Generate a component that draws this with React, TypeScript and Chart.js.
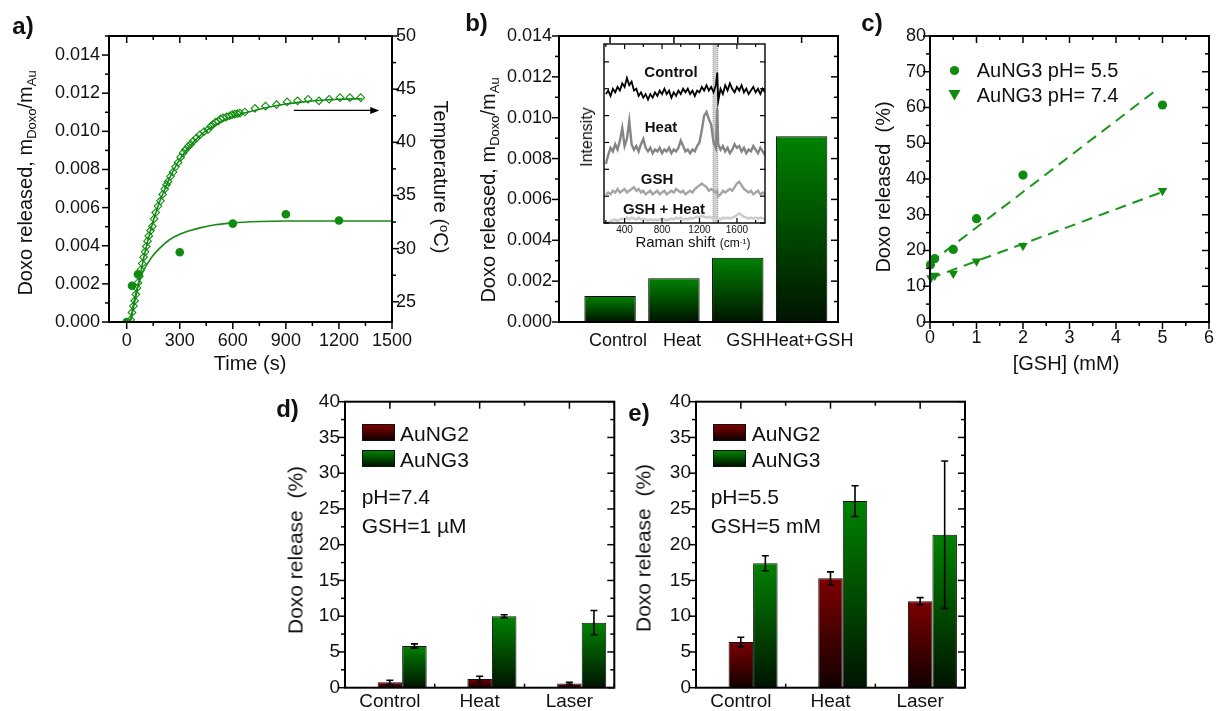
import React, { useEffect, useRef } from 'react';
import { Chart, registerables } from 'chart.js';

Chart.register(...registerables);

const FONT = "'Liberation Sans', Arial, Helvetica, sans-serif";
Chart.defaults.font.family = FONT;
Chart.defaults.color = '#111';

// ---------------- Panel a ----------------
const aTempTime = [22, 30, 38, 45, 52, 58, 64, 72, 80, 88, 96, 104, 111, 118, 125, 135, 145, 155, 164, 177, 191, 203, 215, 225, 234, 248, 262, 276, 290, 305, 319, 333, 347, 361, 375, 394, 413, 437, 460, 475, 489, 503, 517, 531, 545, 564, 583, 597, 611, 626, 640, 668, 725, 785, 847, 907, 966, 1026, 1087, 1145, 1206, 1262, 1323];
const aTemp = [23.3, 24.0, 24.6, 25.1, 25.7, 26.3, 26.8, 27.4, 28.0, 28.6, 29.2, 29.7, 30.2, 30.7, 31.2, 31.7, 32.1, 32.8, 33.4, 34.0, 34.5, 35.1, 35.6, 36.0, 36.3, 36.8, 37.2, 37.7, 38.1, 38.6, 39.0, 39.3, 39.6, 39.8, 40.1, 40.4, 40.7, 41.0, 41.2, 41.5, 41.7, 41.9, 42.0, 42.2, 42.3, 42.4, 42.5, 42.6, 42.65, 42.7, 42.75, 42.85, 43.2, 43.4, 43.55, 43.8, 43.9, 44.05, 43.9, 44.05, 44.2, 44.2, 44.2];
const aTempFitTime = [20, 40, 60, 80, 100, 125, 150, 175, 200, 250, 300, 350, 400, 450, 500, 600, 700, 800, 900, 1000, 1100, 1200, 1330];
const aTempFit = [23.1, 24.6, 26.2, 27.8, 29.4, 31.1, 32.6, 33.9, 35.0, 36.9, 38.4, 39.5, 40.4, 41.1, 41.6, 42.4, 42.9, 43.3, 43.6, 43.8, 43.95, 44.05, 44.1];
const aDoxoTime = [0, 30, 64, 300, 600, 900, 1200];
const aDoxo = [0, 0.0019, 0.0025, 0.00366, 0.00516, 0.00565, 0.00532];
const aDoxoFitTime = [20, 40, 60, 90, 120, 150, 190, 240, 300, 360, 420, 500, 600, 750, 900, 1100, 1300, 1500];
const aDoxoFit = [0, 0.001, 0.0018, 0.0026, 0.0031, 0.0035, 0.0039, 0.0043, 0.0046, 0.0048, 0.00495, 0.0051, 0.0052, 0.00527, 0.0053, 0.0053, 0.0053, 0.0053];
const aXTicks = [0, 300, 600, 900, 1200, 1500];
const aYTicks = [0, 0.002, 0.004, 0.006, 0.008, 0.01, 0.012, 0.014];
const aY2Ticks = [25, 30, 35, 40, 45, 50];
const aArrowTime = [945, 1428];
const aArrowTemp = 43;

// ---------------- Panel b ----------------
const bCategories = ['Control', 'Heat', 'GSH', 'Heat+GSH'];
const bValues = [0.00127, 0.00214, 0.00315, 0.00909];
const bYTicks = [0, 0.002, 0.004, 0.006, 0.008, 0.01, 0.012, 0.014];

// inset (Raman)
const ramanShift = [200, 225, 250, 275, 300, 325, 350, 375, 400, 425, 450, 475, 500, 525, 550, 575, 600, 625, 650, 675, 700, 725, 750, 775, 800, 825, 850, 875, 900, 925, 950, 975, 1000, 1025, 1050, 1075, 1100, 1125, 1150, 1175, 1200, 1225, 1250, 1275, 1300, 1325, 1350, 1375, 1390, 1400, 1425, 1450, 1475, 1500, 1525, 1550, 1575, 1600, 1625, 1650, 1675, 1700, 1725, 1750, 1775, 1800, 1825, 1850, 1875, 1900];
const ramanControl = [72, 74, 71, 75, 73, 76, 74, 78, 76, 81, 77, 79, 74, 75, 71, 73, 70, 72, 69, 72, 70, 73, 71, 74, 72, 75, 72, 74, 70, 73, 71, 74, 72, 75, 73, 75, 72, 74, 71, 74, 73, 76, 74, 77, 74, 76, 73, 77, 84, 68, 75, 72, 77, 74, 78, 75, 73, 76, 74, 77, 73, 75, 72, 74, 76, 73, 75, 72, 75, 73];
const ramanHeat = [33, 38, 42, 40, 44, 41, 46, 53, 43, 47, 57, 44, 41, 43, 40, 44, 47, 42, 40, 42, 39, 41, 40, 42, 39, 41, 40, 42, 39, 41, 40, 42, 46, 43, 40, 41, 39, 41, 40, 43, 45, 52, 60, 62, 58, 55, 45, 42, 64, 44, 41, 43, 40, 42, 39, 41, 44, 42, 43, 40, 42, 39, 41, 40, 43, 41, 39, 42, 40, 38];
const ramanGSH = [16, 17, 16, 18, 17, 19, 17, 18, 19, 17, 18, 19, 20, 18, 19, 17, 18, 16, 17, 18, 16, 17, 18, 16, 17, 18, 16, 17, 18, 17, 19, 18, 17, 18, 16, 17, 18, 17, 19, 20, 21, 22, 21, 20, 18, 19, 18, 17, 18, 15, 16, 18, 17, 18, 19, 18, 20, 22, 23, 21, 19, 18, 17, 18, 16, 17, 18, 16, 17, 16];
const ramanGSHHeat = [0, 0, 1, 1.5, 2, 1, 2, 2.5, 2, 3, 2, 3, 2.5, 2, 3, 2, 2.5, 2, 1.5, 2, 1.5, 2, 1.5, 2, 2.5, 2, 1.5, 2, 2.5, 2, 3, 2.5, 3, 2, 2.5, 2, 3, 2.5, 3, 3.5, 3, 4, 3.5, 3, 3.5, 3, 2.5, 3, 2, 2.5, 2, 3, 2.5, 3, 2.5, 3, 3.5, 4.5, 5.5, 4.5, 3.5, 3, 2.5, 3, 2.5, 3, 2.5, 3, 2.5, 2];
const ramanXTicks = [400, 800, 1200, 1600];
const ramanBand = [1345, 1395];

// ---------------- Panel c ----------------
const cGSH55 = [0.01, 0.1, 0.5, 1, 2, 5];
const cRel55 = [16.0, 17.7, 20.3, 28.9, 41.1, 60.7];
const cGSH74 = [0.02, 0.1, 0.5, 1, 2, 5];
const cRel74 = [12.3, 13.0, 13.6, 17.0, 21.3, 36.7];
const cFitX55 = [0, 4.92];
const cFit55 = [16.5, 65.4];
const cFitX74 = [0, 5.0];
const cFit74 = [12.2, 36.4];
const cXTicks = [0, 1, 2, 3, 4, 5, 6];
const cYTicks = [0, 10, 20, 30, 40, 50, 60, 70, 80];

// ---------------- Panels d, e ----------------
const deCategories = ['Control', 'Heat', 'Laser'];
const dAuNG2 = [0.75, 1.2, 0.6];
const dAuNG2Err = [0.3, 0.4, 0.15];
const dAuNG3 = [5.83, 10.0, 9.1];
const dAuNG3Err = [0.3, 0.2, 1.7];
const eAuNG2 = [6.4, 15.3, 12.1];
const eAuNG2Err = [0.65, 0.9, 0.5];
const eAuNG3 = [17.4, 26.1, 21.4];
const eAuNG3Err = [1.05, 2.15, 10.3];
const deYTicks = [0, 5, 10, 15, 20, 25, 30, 35, 40];

// ---------------- styling ----------------
const GREEN = '#0f8c0f';
const GREEN_LINE = '#168a16';
const BAR_GREEN_TOP = '#008200';
const BAR_GREEN_BOT = '#001400';
const BAR_RED_TOP = '#7d0000';
const BAR_RED_BOT = '#120000';

const zip = (xs: number[], ys: number[]) => xs.map((x, i) => ({ x, y: ys[i] }));
const setTicks = (vals: number[]) => (s: any) => { s.ticks = vals.map((v) => ({ value: v })); };
const fixW = (w: number) => (s: any) => { s.width = w; };
const fixH = (h: number) => (s: any) => { s.height = h; };
const plain = (v: any) => String(v);

function vGradient(top: string, bottom: string) {
  return (c: any) => {
    const chart = c.chart;
    if (c.type !== 'data' || !chart.chartArea || !c.parsed) return top;
    const ys = chart.scales.y;
    const v = c.parsed.y;
    if (v == null || isNaN(v)) return top;
    const y0 = ys.getPixelForValue(v);
    const y1 = ys.getPixelForValue(0);
    if (!isFinite(y0) || !isFinite(y1) || Math.abs(y1 - y0) < 1) return top;
    const g = chart.ctx.createLinearGradient(0, y0, 0, y1);
    g.addColorStop(0, top);
    g.addColorStop(1, bottom);
    return g;
  };
}

type Side = { scale: string; side: 'left' | 'right' | 'top' | 'bottom'; dir: 'in' | 'out'; minor?: boolean; only?: 'minor' };

function framePlugin(sides: Side[], o: { lw?: number; major?: number; minor?: number; tw?: number } = {}) {
  const lw = o.lw ?? 2, majL = o.major ?? 7, minL = o.minor ?? 4, tw = o.tw ?? 1.5;
  return {
    id: 'frame',
    afterDatasetsDraw(chart: any) {
      const { ctx, chartArea: a } = chart;
      ctx.save();
      ctx.strokeStyle = '#000';
      ctx.lineWidth = tw;
      for (const s of sides) {
        const sc = chart.scales[s.scale];
        const maj: number[] = sc.ticks.map((t: any) => t.value);
        const mins: number[] = [];
        if (s.minor !== false && maj.length > 1) {
          const step = maj[1] - maj[0];
          for (let i = -1; i < maj.length; i++) mins.push(maj[0] + (i + 0.5) * step);
        }
        const horiz = s.side === 'top' || s.side === 'bottom';
        const draw = (v: number, len: number) => {
          const p = sc.getPixelForValue(v);
          if (horiz ? p < a.left - 0.5 || p > a.right + 0.5 : p < a.top - 0.5 || p > a.bottom + 0.5) return;
          ctx.beginPath();
          if (s.side === 'left') { ctx.moveTo(a.left, p); ctx.lineTo(a.left + (s.dir === 'in' ? len : -len), p); }
          if (s.side === 'right') { ctx.moveTo(a.right, p); ctx.lineTo(a.right + (s.dir === 'in' ? -len : len), p); }
          if (s.side === 'top') { ctx.moveTo(p, a.top); ctx.lineTo(p, a.top + (s.dir === 'in' ? len : -len)); }
          if (s.side === 'bottom') { ctx.moveTo(p, a.bottom); ctx.lineTo(p, a.bottom + (s.dir === 'in' ? -len : len)); }
          ctx.stroke();
        };
        if (s.only !== 'minor') maj.forEach((v) => draw(v, majL));
        mins.forEach((v) => draw(v, minL));
      }
      ctx.lineWidth = lw;
      ctx.strokeRect(a.left, a.top, a.right - a.left, a.bottom - a.top);
      ctx.restore();
    },
  };
}

function errorBarPlugin(errs: (number[] | null)[]) {
  return {
    id: 'errbars',
    afterDatasetsDraw(chart: any) {
      const ctx = chart.ctx;
      const ys = chart.scales.y;
      ctx.save();
      ctx.strokeStyle = '#000';
      ctx.lineWidth = 1.6;
      errs.forEach((arr, di) => {
        if (!arr) return;
        const meta = chart.getDatasetMeta(di);
        const data = chart.data.datasets[di].data as number[];
        meta.data.forEach((el: any, i: number) => {
          const v = data[i];
          const e = arr[i];
          if (v == null || e == null) return;
          const x = el.x;
          const yt = ys.getPixelForValue(v + e);
          const yb = ys.getPixelForValue(v - e);
          ctx.beginPath();
          ctx.moveTo(x, yt); ctx.lineTo(x, yb);
          ctx.moveTo(x - 3.5, yt); ctx.lineTo(x + 3.5, yt);
          ctx.moveTo(x - 3.5, yb); ctx.lineTo(x + 3.5, yb);
          ctx.stroke();
        });
      });
      ctx.restore();
    },
  };
}

const arrowPlugin = {
  id: 'arrow',
  afterDatasetsDraw(chart: any) {
    const ctx = chart.ctx;
    const x0 = chart.scales.x.getPixelForValue(aArrowTime[0]);
    const x1 = chart.scales.x.getPixelForValue(aArrowTime[1]);
    const y = chart.scales.y2.getPixelForValue(aArrowTemp);
    ctx.save();
    ctx.strokeStyle = '#000';
    ctx.fillStyle = '#000';
    ctx.lineWidth = 1.3;
    ctx.beginPath(); ctx.moveTo(x0, y); ctx.lineTo(x1 - 6, y); ctx.stroke();
    ctx.beginPath(); ctx.moveTo(x1, y); ctx.lineTo(x1 - 9, y - 3.5); ctx.lineTo(x1 - 9, y + 3.5); ctx.closePath(); ctx.fill();
    ctx.restore();
  },
};

const bandPlugin = {
  id: 'band',
  beforeDatasetsDraw(chart: any) {
    const ctx = chart.ctx;
    const a = chart.chartArea;
    const x0 = chart.scales.x.getPixelForValue(ramanBand[0]);
    const x1 = chart.scales.x.getPixelForValue(ramanBand[1]);
    ctx.save();
    ctx.fillStyle = 'rgba(170,170,170,0.55)';
    ctx.fillRect(x0, a.top, x1 - x0, a.bottom - a.top);
    ctx.strokeStyle = '#9a9a9a';
    ctx.lineWidth = 1;
    ctx.setLineDash([1, 1]);
    ctx.beginPath();
    ctx.moveTo(x0, a.top); ctx.lineTo(x0, a.bottom);
    ctx.moveTo(x1, a.top); ctx.lineTo(x1, a.bottom);
    ctx.stroke();
    ctx.restore();
  },
};

const noGrid = { display: false, drawTicks: false };
const noBorder = { display: false };
const baseOpts = {
  responsive: false,
  animation: false as const,
  events: [] as any[],
};
const noPlug = { legend: { display: false }, tooltip: { enabled: false } };

// ---------------- configs ----------------
const makeA = () => ({
  type: 'scatter',
  data: {
    datasets: [
      { data: zip(aDoxoTime, aDoxo), yAxisID: 'y', pointStyle: 'circle', pointRadius: 4.3, backgroundColor: GREEN, borderColor: GREEN, borderWidth: 0 },
      { data: zip(aTempTime, aTemp), yAxisID: 'y2', pointStyle: 'rectRot', pointRadius: 3.8, backgroundColor: 'rgba(0,0,0,0)', borderColor: GREEN, borderWidth: 1.1 },
      { data: zip(aDoxoFitTime, aDoxoFit), yAxisID: 'y', showLine: true, pointRadius: 0, borderColor: GREEN_LINE, borderWidth: 1.6, cubicInterpolationMode: 'monotone' },
      { data: zip(aTempFitTime, aTempFit), yAxisID: 'y2', showLine: true, pointRadius: 0, borderColor: GREEN_LINE, borderWidth: 1.6, cubicInterpolationMode: 'monotone' },
    ],
  },
  options: {
    ...baseOpts,
    layout: { padding: { top: 36, left: 0, right: 0, bottom: 0 } },
    plugins: noPlug,
    scales: {
      x: { type: 'linear', min: -100, max: 1500, grid: noGrid, border: noBorder, ticks: { font: { size: 18 }, padding: 8, maxRotation: 0, autoSkip: false, callback: plain }, afterBuildTicks: setTicks(aXTicks), afterFit: fixH(58) },
      y: { type: 'linear', position: 'left', min: 0, max: 0.015, grid: noGrid, border: noBorder, ticks: { font: { size: 18 }, padding: 9, callback: (v: any) => Number(v).toFixed(3) }, afterBuildTicks: setTicks(aYTicks), afterFit: fixW(109) },
      y2: { type: 'linear', position: 'right', min: 23.1, max: 50, grid: noGrid, border: noBorder, ticks: { font: { size: 18 }, padding: 4, callback: plain }, afterBuildTicks: setTicks(aY2Ticks), afterFit: fixW(68) },
    },
  },
  plugins: [
    arrowPlugin,
    framePlugin([
      { scale: 'x', side: 'bottom', dir: 'out' },
      { scale: 'x', side: 'top', dir: 'in' },
      { scale: 'y', side: 'left', dir: 'out' },
      { scale: 'y2', side: 'right', dir: 'out' },
    ]),
  ],
});

const makeB = () => ({
  type: 'bar',
  data: {
    datasets: [
      {
        data: bCategories.map((_, i) => ({ x: i + 1, y: bValues[i] })),
        backgroundColor: vGradient(BAR_GREEN_TOP, BAR_GREEN_BOT),
        borderColor: '#000',
        borderWidth: 1,
        categoryPercentage: 0.9,
        barPercentage: 0.895,
      },
    ],
  },
  options: {
    ...baseOpts,
    layout: { padding: { top: 36, left: 0, right: 22, bottom: 0 } },
    plugins: noPlug,
    scales: {
      x: { type: 'linear', min: 0.2, max: 4.57, offset: false, grid: noGrid, border: noBorder, ticks: { font: { size: 18 }, padding: 8, maxRotation: 0, autoSkip: false, labelOffset: 8, callback: (v: any) => bCategories[Math.round(Number(v)) - 1] ?? '' }, afterBuildTicks: setTicks(bCategories.map((_, i) => i + 1)), afterFit: fixH(58) },
      y: { type: 'linear', min: 0, max: 0.014, grid: noGrid, border: noBorder, ticks: { font: { size: 18 }, padding: 7, callback: (v: any) => Number(v).toFixed(3) }, afterBuildTicks: setTicks(bYTicks), afterFit: fixW(99) },
    },
  },
  plugins: [
    framePlugin([
      { scale: 'y', side: 'left', dir: 'out' },
      { scale: 'y', side: 'right', dir: 'in' },
      { scale: 'x', side: 'top', dir: 'in', minor: false },
    ]),
  ],
});

const makeInset = () => ({
  type: 'line',
  data: {
    datasets: [
      { data: zip(ramanShift, ramanControl), borderColor: '#000', borderWidth: 1.8, pointRadius: 0 },
      { data: zip(ramanShift, ramanHeat), borderColor: '#858585', borderWidth: 2.4, pointRadius: 0 },
      { data: zip(ramanShift, ramanGSH), borderColor: '#a5a5a5', borderWidth: 2.4, pointRadius: 0 },
      { data: zip(ramanShift, ramanGSHHeat), borderColor: '#cdcdcd', borderWidth: 2.6, pointRadius: 0 },
    ],
  },
  options: {
    ...baseOpts,
    layout: { padding: { top: 4, left: 0, right: 10, bottom: 0 } },
    plugins: noPlug,
    scales: {
      x: { type: 'linear', min: 180, max: 1900, grid: noGrid, border: noBorder, ticks: { font: { size: 10 }, padding: 1, maxRotation: 0, autoSkip: false, callback: plain }, afterBuildTicks: setTicks(ramanXTicks), afterFit: fixH(17) },
      y: { type: 'linear', min: 0, max: 100, grid: noGrid, border: noBorder, ticks: { display: false, stepSize: 15, includeBounds: false }, afterFit: fixW(29) },
    },
  },
  plugins: [
    bandPlugin,
    framePlugin(
      [
        { scale: 'x', side: 'bottom', dir: 'in' },
        { scale: 'x', side: 'top', dir: 'in' },
        { scale: 'y', side: 'left', dir: 'in', minor: false },
        { scale: 'y', side: 'right', dir: 'in', minor: false },
      ],
      { lw: 1.4, major: 5, minor: 3, tw: 1.2 }
    ),
  ],
});

const makeC = () => ({
  type: 'scatter',
  data: {
    datasets: [
      { data: zip(cGSH55, cRel55), pointStyle: 'circle', pointRadius: 4.6, backgroundColor: GREEN, borderColor: GREEN, borderWidth: 0, clip: false },
      { data: zip(cGSH74, cRel74), pointStyle: 'triangle', rotation: 180, pointRadius: 5.5, backgroundColor: GREEN, borderColor: GREEN, borderWidth: 0, clip: false },
      { data: zip(cFitX55, cFit55), showLine: true, pointRadius: 0, borderColor: '#1a961a', borderWidth: 2, borderDash: [11, 7] },
      { data: zip(cFitX74, cFit74), showLine: true, pointRadius: 0, borderColor: '#1a961a', borderWidth: 2, borderDash: [11, 7] },
    ],
  },
  options: {
    ...baseOpts,
    layout: { padding: { top: 36, left: 0, right: 6, bottom: 0 } },
    plugins: noPlug,
    scales: {
      x: { type: 'linear', min: 0, max: 6, grid: noGrid, border: noBorder, ticks: { font: { size: 18 }, padding: 5, maxRotation: 0, autoSkip: false, callback: plain }, afterBuildTicks: setTicks(cXTicks), afterFit: fixH(58) },
      y: { type: 'linear', min: 0, max: 80, grid: noGrid, border: noBorder, ticks: { font: { size: 18 }, padding: 4, callback: plain }, afterBuildTicks: setTicks(cYTicks), afterFit: fixW(70) },
    },
  },
  plugins: [
    framePlugin([
      { scale: 'x', side: 'bottom', dir: 'out' },
      { scale: 'x', side: 'top', dir: 'in' },
      { scale: 'y', side: 'left', dir: 'out' },
      { scale: 'y', side: 'right', dir: 'in' },
    ]),
  ],
});

const makeDE = (ng2: number[], ng2Err: number[], ng3: number[], ng3Err: number[], yW: number, padR: number) => () => ({
  type: 'bar',
  data: {
    labels: deCategories,
    datasets: [
      { label: '', data: deCategories.map(() => null) },
      { label: 'AuNG2', data: ng2, backgroundColor: vGradient(BAR_RED_TOP, BAR_RED_BOT), borderColor: '#111', borderWidth: 1 },
      { label: 'AuNG3', data: ng3, backgroundColor: vGradient(BAR_GREEN_TOP, BAR_GREEN_BOT), borderColor: '#111', borderWidth: 1 },
    ],
  },
  options: {
    ...baseOpts,
    datasets: { bar: { categoryPercentage: 0.82, barPercentage: 1.0 } },
    layout: { padding: { top: 21.7, left: 0, right: padR, bottom: 0 } },
    plugins: noPlug,
    scales: {
      x: { type: 'category', grid: noGrid, border: noBorder, ticks: { font: { size: 19 }, padding: 3, maxRotation: 0, autoSkip: false }, afterFit: fixH(23.3) },
      y: { type: 'linear', min: 0, max: 40, grid: noGrid, border: noBorder, ticks: { font: { size: 19 }, padding: 5, callback: plain }, afterBuildTicks: setTicks(deYTicks), afterFit: fixW(yW) },
    },
  },
  plugins: [
    errorBarPlugin([null, ng2Err, ng3Err]),
    framePlugin([
      { scale: 'x', side: 'bottom', dir: 'in', only: 'minor' },
      { scale: 'x', side: 'top', dir: 'in' },
      { scale: 'y', side: 'left', dir: 'out' },
      { scale: 'y', side: 'right', dir: 'in' },
    ]),
  ],
});

const makeD = makeDE(dAuNG2, dAuNG2Err, dAuNG3, dAuNG3Err, 75, 10.7);
const makeE = makeDE(eAuNG2, eAuNG2Err, eAuNG3, eAuNG3Err, 71, 15);

// ---------------- components ----------------
function ChartCanvas({ x, y, w, h, make }: { x: number; y: number; w: number; h: number; make: () => any }) {
  const ref = useRef<HTMLCanvasElement | null>(null);
  useEffect(() => {
    if (!ref.current) return;
    const chart = new Chart(ref.current, make());
    return () => chart.destroy();
  }, [make]);
  return <canvas ref={ref} width={w} height={h} style={{ position: 'absolute', left: x, top: y, width: w, height: h }} />;
}

function Txt({ x, y, size = 20, bold = false, rot = 0, align = 'center', children }: any) {
  const tx = align === 'left' ? '0' : '-50%';
  return (
    <div
      style={{
        position: 'absolute',
        left: x,
        top: y,
        fontFamily: FONT,
        fontSize: size,
        fontWeight: bold ? 700 : 400,
        lineHeight: 1,
        whiteSpace: 'pre',
        color: '#111',
        transform: `translate(${tx}, -50%) rotate(${rot}deg)`,
      }}
    >
      {children}
    </div>
  );
}

const Sub = ({ children }: any) => <span style={{ fontSize: '0.65em', position: 'relative', top: '0.3em' }}>{children}</span>;
const Sup = ({ children }: any) => <span style={{ fontSize: '0.65em', position: 'relative', top: '-0.45em' }}>{children}</span>;

const DoxoTitle = () => (
  <>
    Doxo released, m<Sub>Doxo</Sub>/m<Sub>Au</Sub>
  </>
);

function LegendBox({ x, y, top, bottom }: any) {
  return (
    <div
      style={{
        position: 'absolute',
        left: x,
        top: y,
        width: 33,
        height: 17,
        boxSizing: 'border-box',
        border: '1px solid #111',
        background: `linear-gradient(${top}, ${bottom})`,
      }}
    />
  );
}

export default function App() {
  return (
    <div style={{ position: 'fixed', left: 0, top: 0, width: 1219, height: 711, background: '#fff', overflow: 'hidden' }}>
      <ChartCanvas x={0} y={0} w={460} h={380} make={makeA} />
      <ChartCanvas x={460} y={0} w={400} h={380} make={makeB} />
      <ChartCanvas x={575} y={40} w={200} h={200} make={makeInset} />
      <ChartCanvas x={860} y={0} w={359} h={380} make={makeC} />
      <ChartCanvas x={270} y={380} w={355} h={331} make={makeD} />
      <ChartCanvas x={625} y={380} w={355} h={331} make={makeE} />

      {/* panel labels */}
      <Txt x={23} y={26} size={24} bold>a)</Txt>
      <Txt x={476.5} y={23} size={24} bold>b)</Txt>
      <Txt x={872} y={22.5} size={24} bold>c)</Txt>
      <Txt x={287.5} y={409} size={24} bold>d)</Txt>
      <Txt x={639} y={413} size={24} bold>e)</Txt>

      {/* panel a titles */}
      <Txt x={25} y={183} rot={-90}><DoxoTitle /></Txt>
      <Txt x={250} y={363}>Time (s)</Txt>
      <Txt x={441} y={177} rot={90}>Temperature (<Sup>o</Sup>C)</Txt>

      {/* panel b titles */}
      <Txt x={488} y={190} rot={-90}><DoxoTitle /></Txt>
      <Txt x={586.5} y={137} size={16} rot={-90}>Intensity</Txt>
      <Txt x={693} y={241} size={15}>Raman shift <span style={{ fontSize: 12 }}>(cm<Sup>-1</Sup>)</span></Txt>
      <Txt x={671} y={71} size={15} bold>Control</Txt>
      <Txt x={661} y={126} size={15} bold>Heat</Txt>
      <Txt x={657} y={178} size={15} bold>GSH</Txt>
      <Txt x={664} y={207.5} size={15} bold>GSH + Heat</Txt>

      {/* panel c titles + legend */}
      <Txt x={883} y={187} rot={-90}>Doxo released  (%)</Txt>
      <Txt x={1066} y={363}>[GSH] (mM)</Txt>
      <svg style={{ position: 'absolute', left: 949, top: 65 }} width={11} height={11}>
        <circle cx={5.5} cy={5.5} r={4.6} fill={GREEN} />
      </svg>
      <svg style={{ position: 'absolute', left: 948, top: 89 }} width={13} height={12}>
        <polygon points="0.5,1 12.5,1 6.5,11.5" fill={GREEN} />
      </svg>
      <Txt x={976.7} y={70} align="left">AuNG3 pH= 5.5</Txt>
      <Txt x={976.7} y={95} align="left">AuNG3 pH= 7.4</Txt>

      {/* panel d */}
      <Txt x={295} y={550} size={21} rot={-90}>Doxo release  (%)</Txt>
      <LegendBox x={361.7} y={424} top={BAR_RED_TOP} bottom={BAR_RED_BOT} />
      <LegendBox x={361.7} y={450} top={BAR_GREEN_TOP} bottom={BAR_GREEN_BOT} />
      <Txt x={400} y={432.5} size={21} align="left">AuNG2</Txt>
      <Txt x={400} y={458.5} size={21} align="left">AuNG3</Txt>
      <Txt x={361.7} y={496} size={21} align="left">pH=7.4</Txt>
      <Txt x={361.7} y={525} size={21} align="left">GSH=1 µM</Txt>

      {/* panel e */}
      <Txt x={643} y={548} size={21} rot={-90}>Doxo release  (%)</Txt>
      <LegendBox x={712.7} y={424} top={BAR_RED_TOP} bottom={BAR_RED_BOT} />
      <LegendBox x={712.7} y={450} top={BAR_GREEN_TOP} bottom={BAR_GREEN_BOT} />
      <Txt x={751.7} y={432.5} size={21} align="left">AuNG2</Txt>
      <Txt x={751.7} y={458.5} size={21} align="left">AuNG3</Txt>
      <Txt x={710.7} y={496} size={21} align="left">pH=5.5</Txt>
      <Txt x={710.7} y={525} size={21} align="left">GSH=5 mM</Txt>
    </div>
  );
}
